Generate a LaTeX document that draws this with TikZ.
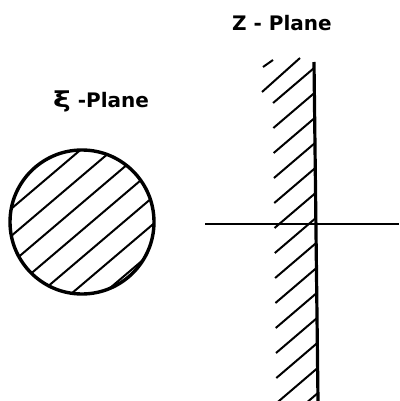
\documentclass[tikz,border=0pt]{standalone}
\usepackage{fontspec}
\setmainfont{DejaVu Sans}
\tikzset{
  lbl/.style={font=\fontsize{20}{22}\selectfont\bfseries, inner sep=0pt, anchor=base west},
  rim/.style={line width=3.4pt},
  hatch/.style={line width=2pt},
  axis/.style={line width=2.6pt}
}
\begin{document}
\begin{tikzpicture}[x=1pt,y=-1pt]
\useasboundingbox (0,0) rectangle (399,401);
% labels
\node[lbl] (xilbl) at (53,108) {\scalebox{1.5}[1.1]{ξ}\hspace{7pt}-Plane};
\node[lbl] (zlbl) at (232,31) {Z - Plane};
% circle (xi-plane)
\coordinate (c) at (82,222);
\begin{scope}
  \clip (c) circle (72);
  \foreach \x in {18,50,82,114,146,178,210} {
    \draw[hatch] (\x,203) ++(-120,102) -- ++(240,-204);
  }
\end{scope}
\draw[rim] (c) circle (72);
% z-plane
\coordinate (ltop) at (314,62);
\coordinate (lbot) at (318,401);
\coordinate (axl) at (205,224);
\coordinate (axr) at (399,224);
\draw[axis] (axl) -- (axr);
\foreach \y in {68,93,118,143,168,193,218,243,268,293,318,343,368,393} {
  \pgfmathsetmacro{\xx}{314+4*(\y-62)/339}
  \draw[hatch] (\xx,\y) -- ++(-41,35);
}
\draw[hatch] (300,58) -- (262,92);
\draw[hatch] (273,60) -- (263,67);
\draw[line width=3.2pt] (ltop) -- (lbot);
\end{tikzpicture}
\end{document}
